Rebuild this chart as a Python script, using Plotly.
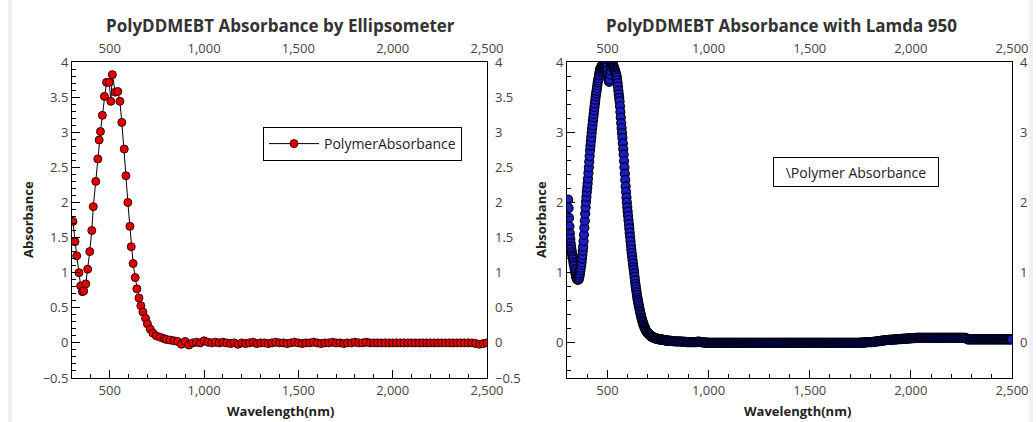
import plotly.graph_objects as go

# ---- Ellipsometer measurement (wavelength in nm, absorbance) ----
wl_ellip_peak = [305, 316, 325, 337, 346, 355, 362, 373, 383, 394,
                 405, 413, 426, 437, 444, 451, 461, 472, 483, 497,
                 506, 514, 529, 543, 554, 564, 577, 586, 596, 607,
                 614, 624, 635, 644, 655, 665, 676, 690, 700, 715,
                 729, 747, 768, 789]
abs_ellip_peak = [1.73, 1.44, 1.24, 1.00, 0.81, 0.73, 0.74, 0.84, 1.05, 1.30,
                  1.60, 1.94, 2.30, 2.62, 2.89, 3.01, 3.24, 3.51, 3.71, 3.71,
                  3.44, 3.82, 3.57, 3.58, 3.44, 3.14, 2.76, 2.38, 2.00, 1.66,
                  1.37, 1.13, 0.93, 0.77, 0.64, 0.53, 0.44, 0.35, 0.27, 0.195,
                  0.14, 0.10, 0.08, 0.06]
wl_ellip_tail = list(range(800, 2501, 20))
abs_ellip_tail = [0.05, 0.04, 0.03, 0.02, -0.02, 0.02, -0.03, 0.00, 0.01, 0.00,
                  0.03, 0.01, 0.00, 0.01, 0.00, 0.01, 0.00, -0.01, 0.00, -0.02,
                  0.00, -0.01, 0.00, 0.01, -0.01, 0.00, 0.00, -0.01, 0.00, 0.01,
                  0.00, 0.00, -0.01, 0.00, 0.01, 0.00, -0.01, 0.00, 0.00, 0.01,
                  0.00, -0.01, 0.00, 0.00, 0.01, 0.00, 0.00, -0.01, 0.00, 0.00,
                  0.01, 0.00, 0.00, 0.01, 0.00, 0.00, 0.00, 0.00, 0.00, 0.00,
                  0.00, 0.00, 0.00, 0.00, 0.00, 0.00, 0.00, 0.00, 0.00, 0.00,
                  0.00, 0.00, 0.00, 0.00, 0.00, 0.00, 0.00, 0.00, 0.00, 0.00,
                  0.00, 0.00, -0.01, -0.02, -0.01, 0.00]

# ---- Lambda 950 spectrophotometer measurement ----
wl_lamda_peak = list(range(306, 801, 2))
abs_lamda_peak = [
    2.04, 1.92, 1.78, 1.66, 1.56, 1.48, 1.42, 1.37, 1.33, 1.29,  # 306-324
    1.25, 1.22, 1.19, 1.15, 1.12, 1.09, 1.05, 1.02, 0.99, 0.96,  # 326-344
    0.94, 0.92, 0.91, 0.90, 0.90, 0.90, 0.91, 0.93, 0.96, 0.99,  # 346-364
    1.03, 1.07, 1.11, 1.15, 1.20, 1.25, 1.31, 1.37, 1.45, 1.54,  # 366-384
    1.64, 1.74, 1.84, 1.93, 2.01, 2.08, 2.15, 2.21, 2.27, 2.34,  # 386-404
    2.42, 2.50, 2.58, 2.66, 2.74, 2.81, 2.87, 2.93, 2.99, 3.05,  # 406-424
    3.10, 3.16, 3.21, 3.26, 3.31, 3.36, 3.41, 3.46, 3.51, 3.55,  # 426-444
    3.59, 3.63, 3.67, 3.71, 3.74, 3.77, 3.81, 3.84, 3.87, 3.89,  # 446-464
    3.91, 3.92, 3.93, 3.94, 3.95, 3.96, 3.97, 3.98, 3.98, 3.99,  # 466-484
    3.99, 3.98, 3.98, 3.97, 3.97, 3.95, 3.92, 3.88, 3.82, 3.77,  # 486-504
    3.74, 3.72, 3.72, 3.75, 3.82, 3.88, 3.93, 3.96, 3.98, 3.98,  # 506-524
    3.97, 3.96, 3.94, 3.92, 3.90, 3.89, 3.87, 3.85, 3.83, 3.81,  # 526-544
    3.78, 3.74, 3.70, 3.65, 3.59, 3.54, 3.49, 3.44, 3.37, 3.29,  # 546-564
    3.21, 3.13, 3.06, 2.99, 2.92, 2.84, 2.76, 2.68, 2.59, 2.50,  # 566-584
    2.41, 2.32, 2.23, 2.15, 2.07, 2.00, 1.93, 1.87, 1.81, 1.75,  # 586-604
    1.69, 1.63, 1.57, 1.51, 1.45, 1.39, 1.33, 1.28, 1.23, 1.18,  # 606-624
    1.13, 1.08, 1.04, 0.99, 0.94, 0.89, 0.84, 0.80, 0.76, 0.72,  # 626-644
    0.68, 0.64, 0.61, 0.58, 0.55, 0.52, 0.49, 0.46, 0.44, 0.41,  # 646-664
    0.39, 0.36, 0.34, 0.32, 0.30, 0.28, 0.26, 0.25, 0.23, 0.22,  # 666-684
    0.21, 0.19, 0.18, 0.17, 0.16, 0.15, 0.145, 0.14, 0.13, 0.125,  # 686-704
    0.12, 0.115, 0.11, 0.105, 0.10, 0.095, 0.09, 0.09, 0.085, 0.08,  # 706-724
    0.08, 0.075, 0.07, 0.07, 0.068, 0.066, 0.064, 0.062, 0.06, 0.058,  # 726-744
    0.057, 0.056, 0.055, 0.054, 0.053, 0.052, 0.051, 0.05, 0.049, 0.048,  # 746-764
    0.047, 0.046, 0.045, 0.044, 0.043, 0.042, 0.041, 0.04, 0.039, 0.038,  # 766-784
    0.037, 0.036, 0.035, 0.034, 0.033, 0.032, 0.031, 0.03,  # 786-800
]
wl_lamda_tail = list(range(805, 2501, 5))
abs_lamda_tail = [
    0.03, 0.03, 0.03, 0.025, 0.025, 0.025, 0.02, 0.02, 0.02, 0.02,
    0.02, 0.02, 0.02, 0.015, 0.015, 0.015, 0.015, 0.01, 0.01, 0.01,  # 805-900
    0.01, 0.01, 0.01, 0.01, 0.01, 0.01, 0.01, 0.01, 0.015, 0.02,
    0.015, 0.01, 0.01, 0.01, 0.005, 0.005, 0.005, 0.005, 0.00, 0.00,  # 905-1000
    0.00, 0.00, 0.00, 0.00, 0.00, 0.00, 0.00, 0.00, 0.00, 0.00,
    0.00, 0.00, 0.00, 0.00, 0.00, 0.00, 0.00, 0.00, 0.00, 0.00,  # 1005-1100
    0.00, 0.00, 0.00, 0.00, 0.00, 0.00, 0.00, 0.00, 0.00, 0.00,
    0.00, 0.00, 0.00, 0.00, 0.00, 0.00, 0.00, 0.00, 0.00, 0.00,  # 1105-1200
    0.00, 0.00, 0.00, 0.00, 0.00, 0.00, 0.00, 0.00, 0.00, 0.00,
    0.00, 0.00, 0.00, 0.00, 0.00, 0.00, 0.00, 0.00, 0.00, 0.00,  # 1205-1300
    0.00, 0.00, 0.00, 0.00, 0.00, 0.00, 0.00, 0.00, 0.00, 0.00,
    0.00, 0.00, 0.00, 0.00, 0.00, 0.00, 0.00, 0.00, 0.00, 0.00,  # 1305-1400
    0.00, 0.00, 0.00, 0.00, 0.00, 0.00, 0.00, 0.00, 0.00, 0.00,
    0.00, 0.00, 0.00, 0.00, 0.00, 0.00, 0.00, 0.00, 0.00, 0.00,  # 1405-1500
    0.00, 0.00, 0.00, 0.00, 0.00, 0.00, 0.00, 0.00, 0.00, 0.00,
    0.00, 0.00, 0.00, 0.00, 0.00, 0.00, 0.00, 0.00, 0.00, 0.00,  # 1505-1600
    0.00, 0.00, 0.00, 0.00, 0.00, 0.00, 0.00, 0.00, 0.00, 0.00,
    0.00, 0.00, 0.00, 0.00, 0.00, 0.00, 0.00, 0.00, 0.00, 0.00,  # 1605-1700
    0.00, 0.00, 0.00, 0.00, 0.00, 0.00, 0.00, 0.00, 0.00, 0.00,
    0.005, 0.005, 0.005, 0.005, 0.005, 0.01, 0.01, 0.01, 0.01, 0.01,  # 1705-1800
    0.01, 0.012, 0.014, 0.016, 0.018, 0.02, 0.022, 0.024, 0.026, 0.028,
    0.03, 0.032, 0.034, 0.036, 0.038, 0.04, 0.041, 0.042, 0.043, 0.044,  # 1805-1900
    0.045, 0.046, 0.047, 0.048, 0.05, 0.051, 0.052, 0.053, 0.054, 0.055,
    0.056, 0.057, 0.058, 0.059, 0.06, 0.061, 0.062, 0.063, 0.064, 0.065,  # 1905-2000
    0.066, 0.067, 0.068, 0.069, 0.07, 0.07, 0.07, 0.07, 0.07, 0.07,
    0.07, 0.07, 0.07, 0.07, 0.07, 0.07, 0.07, 0.07, 0.07, 0.07,  # 2005-2100
    0.07, 0.07, 0.07, 0.07, 0.07, 0.07, 0.07, 0.07, 0.07, 0.07,
    0.07, 0.07, 0.07, 0.07, 0.07, 0.07, 0.07, 0.07, 0.07, 0.07,  # 2105-2200
    0.07, 0.07, 0.07, 0.07, 0.07, 0.07, 0.07, 0.07, 0.07, 0.07,
    0.07, 0.07, 0.07, 0.07, 0.06, 0.05, 0.05, 0.05, 0.05, 0.05,  # 2205-2300
    0.05, 0.05, 0.05, 0.05, 0.05, 0.05, 0.05, 0.05, 0.05, 0.05,
    0.05, 0.05, 0.05, 0.05, 0.05, 0.05, 0.05, 0.05, 0.05, 0.05,  # 2305-2400
    0.05, 0.05, 0.05, 0.05, 0.05, 0.05, 0.05, 0.05, 0.05, 0.05,
    0.05, 0.05, 0.05, 0.05, 0.05, 0.05, 0.05, 0.05, 0.05, 0.05,  # 2405-2500
]

wl_ellip = wl_ellip_peak + wl_ellip_tail
abs_ellip = abs_ellip_peak + abs_ellip_tail
wl_lamda = wl_lamda_peak + wl_lamda_tail
abs_lamda = abs_lamda_peak + abs_lamda_tail

W, H = 1036, 422
FONT = "Open Sans"
tickfont = dict(family=FONT, size=13, color="#444")


def px(x):
    return x / W


def py(y):
    return 1 - y / H


fig = go.Figure()
fig.add_trace(go.Scatter(
    x=wl_ellip, y=abs_ellip, mode="lines+markers", name="PolymerAbsorbance",
    line=dict(color="black", width=1),
    marker=dict(color="#e00000", size=8, line=dict(color="#3a0000", width=1)),
    xaxis="x", yaxis="y", showlegend=True,
))
fig.add_trace(go.Scatter(
    x=wl_lamda, y=abs_lamda, mode="markers", name="\\Polymer Absorbance",
    marker=dict(color="#1c1cc8", size=9, line=dict(color="#00001a", width=1.2)),
    xaxis="x2", yaxis="y2", showlegend=False,
))

x_range = [300, 2500]
y_range = [-0.5, 4]

# empty traces so the mirrored label axes (top / right) get drawn
for xa, ya in [("x3", "y"), ("x", "y3"), ("x4", "y2"), ("x2", "y4")]:
    fig.add_trace(go.Scatter(x=[None], y=[None], xaxis=xa, yaxis=ya,
                             mode="markers", showlegend=False,
                             hoverinfo="skip"))


def bottom_x(domain, anchor):
    return dict(domain=domain, anchor=anchor, range=x_range, showline=True,
                linecolor="black", linewidth=1, mirror=True, ticks="inside",
                ticklen=8, tickcolor="black", tick0=0, dtick=500,
                tickformat=",d", tickfont=tickfont, showgrid=False,
                zeroline=False, automargin=False,
                minor=dict(tick0=0, dtick=100, ticks="inside", ticklen=4,
                           tickcolor="black", showgrid=False))


def top_x(over, anchor):
    return dict(overlaying=over, anchor=anchor, side="top", range=x_range,
                showline=False, ticks="", tick0=0, dtick=500, tickformat=",d",
                tickfont=tickfont, showgrid=False, zeroline=False,
                automargin=False, ticklabelstandoff=5)


def left_y(domain, anchor, major, minor):
    return dict(domain=domain, anchor=anchor, range=y_range, showline=True,
                linecolor="black", linewidth=1, mirror=True, ticks="inside",
                ticklen=8, tickcolor="black", tick0=0, dtick=major,
                tickfont=tickfont, showgrid=False, zeroline=False,
                automargin=False,
                minor=dict(tick0=0, dtick=minor, ticks="inside", ticklen=4,
                           tickcolor="black", showgrid=False))


def right_y(over, anchor, major):
    return dict(overlaying=over, anchor=anchor, side="right", range=y_range,
                showline=False, ticks="", tick0=0, dtick=major,
                tickfont=tickfont, showgrid=False, zeroline=False,
                automargin=False, ticklabelstandoff=7)


ydom = [py(378), py(62)]
fig.update_layout(
    width=W, height=H, template="none",
    margin=dict(l=0, r=0, t=0, b=0),
    paper_bgcolor="white", plot_bgcolor="white",
    font=dict(family=FONT, color="#333"),
    xaxis=bottom_x([px(72), px(487)], "y"),
    yaxis=left_y(ydom, "x", 0.5, 0.1),
    xaxis3=top_x("x", "y"),
    yaxis3=right_y("y", "x", 0.5),
    xaxis2=bottom_x([px(567), px(1012)], "y2"),
    yaxis2=left_y(ydom, "x2", 1, 0.2),
    xaxis4=top_x("x2", "y2"),
    yaxis4=right_y("y2", "x2", 1),
    legend=dict(x=px(263), y=py(127), xanchor="left", yanchor="top",
                bordercolor="black", borderwidth=1, bgcolor="white",
                font=dict(family=FONT, size=14, color="#222"),
                itemwidth=50),
    showlegend=True,
)

title_font = dict(family=FONT, size=17, color="#333")
axis_title_font = dict(family=FONT, size=13, color="#222")


def label(text, x, y, font, **kw):
    fig.add_annotation(text=text, x=px(x), y=py(y), xref="paper",
                       yref="paper", xanchor="center", yanchor="middle",
                       showarrow=False, font=font, **kw)


label("<b>PolyDDMEBT Absorbance by Ellipsometer</b>", 280, 25, title_font)
label("<b>PolyDDMEBT Absorbance with Lamda 950</b>", 781, 25, title_font)
label("<b>Wavelength(nm)</b>", 280, 411, axis_title_font)
label("<b>Wavelength(nm)</b>", 797, 411, axis_title_font)
label("<b>Absorbance</b>", 28, 220, axis_title_font, textangle=-90)
label("<b>Absorbance</b>", 541, 220, axis_title_font, textangle=-90)
label("\\Polymer Absorbance", 856, 172,
      dict(family=FONT, size=14, color="#222"),
      bordercolor="black", borderwidth=1, borderpad=4, bgcolor="white",
      width=156, height=20)

# thin page-edge strips
for x0, x1 in [(8, 12), (1029, 1033)]:
    fig.add_shape(type="rect", xref="paper", yref="paper",
                  x0=px(x0), x1=px(x1), y0=0, y1=1,
                  fillcolor="#eef2f8", line=dict(width=0), layer="below")

fig.write_html("out.html")
